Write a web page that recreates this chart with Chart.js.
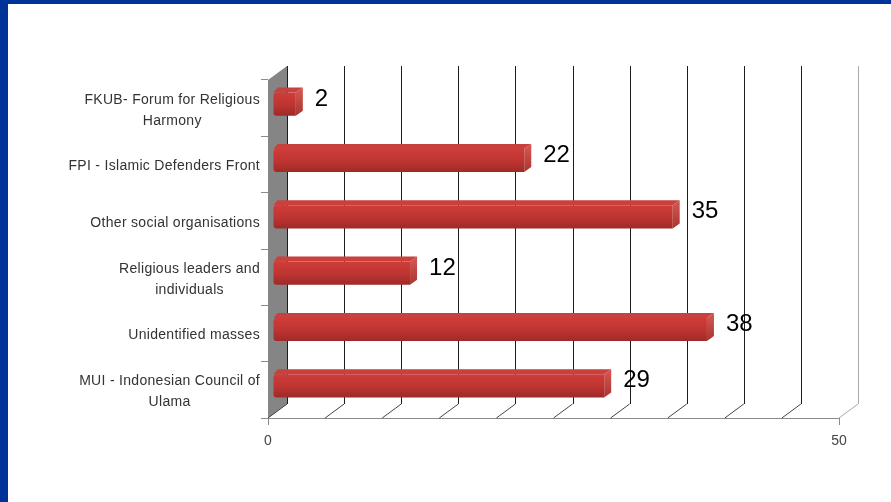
<!DOCTYPE html>
<html>
<head>
<meta charset="utf-8">
<title>Chart</title>
<style>
  html, body { margin: 0; height: 100%; overflow: hidden; }
  body { background: #fff; box-sizing: border-box; border-left: 8px solid #003399; border-top: 4px solid #003399; }
  canvas { position: fixed; left: 0; top: 0; }
</style>
<script src="https://cdn.jsdelivr.net/npm/chart.js@4"></script>
</head>
<body>
<canvas id="chart" width="891" height="502"></canvas>
<script>
const categories = [
  ["FKUB- Forum for Religious", "Harmony"],
  ["FPI - Islamic Defenders Front"],
  ["Other social organisations"],
  ["Religious leaders and", "individuals"],
  ["Unidentified masses"],
  ["MUI - Indonesian Council of", "Ulama"],
];
const incidents = [2, 22, 35, 12, 38, 29];
const axisMin = 0;
const axisMax = 50;
const axisStep = 5;
const labelledTicks = [0, 50];

// fake 3D: how far the back wall and the bars sit from the front plane
const wallDx = 19, wallDy = -14;
const barDx = 5, barDy = -4;
const depthDx = 7, depthDy = -5;

const fake3d = {
  id: "fake3d",
  beforeDatasetsDraw(chart) {
    const { ctx, chartArea: a, scales: { x } } = chart;
    ctx.save();
    // grey side wall
    ctx.fillStyle = "#858585";
    ctx.beginPath();
    ctx.moveTo(a.left, a.top);
    ctx.lineTo(a.left + wallDx, a.top + wallDy);
    ctx.lineTo(a.left + wallDx, a.bottom + wallDy);
    ctx.lineTo(a.left, a.bottom);
    ctx.closePath();
    ctx.fill();
    // back wall lines and floor lines
    x.ticks.forEach((t, i) => {
      const px = x.getPixelForValue(t.value);
      const last = i === x.ticks.length - 1;
      ctx.lineWidth = 1;
      ctx.strokeStyle = last ? "#a8a8a8" : "#1c1c1c";
      ctx.beginPath();
      ctx.moveTo(Math.round(px + wallDx) + 0.5, a.top + wallDy);
      ctx.lineTo(Math.round(px + wallDx) + 0.5, a.bottom + wallDy);
      ctx.stroke();
      ctx.strokeStyle = last ? "#a8a8a8" : "#444";
      ctx.beginPath();
      ctx.moveTo(px + wallDx, a.bottom + wallDy);
      ctx.lineTo(px, a.bottom);
      ctx.stroke();
    });
    ctx.restore();

    // top and end faces of the bars
    ctx.save();
    ctx.translate(barDx, barDy);
    chart.getDatasetMeta(0).data.forEach(bar => {
      const top = bar.y - bar.height / 2;
      const bottom = bar.y + bar.height / 2;
      ctx.fillStyle = "#c9413d";
      ctx.beginPath();
      ctx.moveTo(bar.base, top);
      ctx.lineTo(bar.base + 4, top + depthDy);
      ctx.lineTo(bar.x + depthDx, top + depthDy);
      ctx.lineTo(bar.x, top);
      ctx.closePath();
      ctx.fill();
      const side = ctx.createLinearGradient(0, top, 0, bottom);
      side.addColorStop(0, "#d0524c");
      side.addColorStop(1, "#a93530");
      ctx.fillStyle = side;
      ctx.beginPath();
      ctx.moveTo(bar.x, top);
      ctx.lineTo(bar.x + depthDx, top + depthDy);
      ctx.lineTo(bar.x + depthDx, bottom + depthDy);
      ctx.lineTo(bar.x, bottom);
      ctx.closePath();
      ctx.fill();
    });
    ctx.restore();

    // library draws the front faces inside this shift
    ctx.save();
    ctx.translate(barDx, barDy);
  },
  afterDatasetsDraw(chart) {
    const { ctx, scales: { y } } = chart;
    ctx.restore();
    ctx.save();

    // value labels
    ctx.fillStyle = "#000";
    ctx.font = "24px 'Liberation Sans'";
    ctx.textAlign = "left";
    ctx.textBaseline = "middle";
    chart.getDatasetMeta(0).data.forEach((bar, i) => {
      ctx.fillText(String(incidents[i]), bar.x + barDx + depthDx + 12, bar.y - 9);
    });

    // category labels: block is right aligned, its lines are centred
    ctx.fillStyle = "#333";
    ctx.font = "14px 'Liberation Sans'";
    ctx.letterSpacing = "0.3px";
    ctx.textAlign = "center";
    categories.forEach((lines, i) => {
      const w = Math.max(...lines.map(l => ctx.measureText(l).width));
      const cy = y.getPixelForValue(i) + 2;
      lines.forEach((l, j) => {
        ctx.fillText(l, 260 - w / 2, cy + (j - (lines.length - 1) / 2) * 21);
      });
    });
    ctx.restore();
  },
};

new Chart(document.getElementById("chart"), {
  type: "bar",
  data: {
    labels: categories,
    datasets: [{
      data: incidents,
      barPercentage: 0.82,
      categoryPercentage: 0.5,
      borderRadius: { topLeft: 3, bottomLeft: 3, topRight: 0, bottomRight: 0 },
      borderSkipped: false,
      backgroundColor: c => {
        const mid = c.chart.scales.y ? c.chart.scales.y.getPixelForValue(c.dataIndex) : NaN;
        if (!Number.isFinite(mid)) return "#bd3431";
        const g = c.chart.ctx.createLinearGradient(0, mid - 12, 0, mid + 12);
        g.addColorStop(0, "#cf3d3a");
        g.addColorStop(0.55, "#bd3431");
        g.addColorStop(1, "#9c2a27");
        return g;
      },
    }],
  },
  plugins: [fake3d],
  options: {
    indexAxis: "y",
    responsive: false,
    animation: false,
    layout: { padding: { top: 80, right: 52, left: 0, bottom: 0 } },
    plugins: { legend: { display: false }, tooltip: { enabled: false } },
    scales: {
      x: {
        min: axisMin,
        max: axisMax,
        afterFit: s => { s.height = 84; },
        border: { color: "#8a8a8a" },
        grid: {
          drawOnChartArea: false,
          tickLength: 7,
          tickColor: c => c.tick && labelledTicks.includes(c.tick.value) ? "#8a8a8a" : "transparent",
        },
        ticks: {
          stepSize: axisStep,
          autoSkip: false,
          maxRotation: 0,
          padding: 8,
          color: "#444",
          font: { family: "'Liberation Sans'", size: 14 },
          callback: v => labelledTicks.includes(v) ? String(v) : "",
        },
      },
      y: {
        afterFit: s => { s.width = 268; },
        border: { color: "#8a8a8a" },
        grid: { drawOnChartArea: false, tickLength: 7, tickColor: "#8a8a8a" },
        ticks: { display: false },
      },
    },
  },
});
</script>
</body>
</html>
